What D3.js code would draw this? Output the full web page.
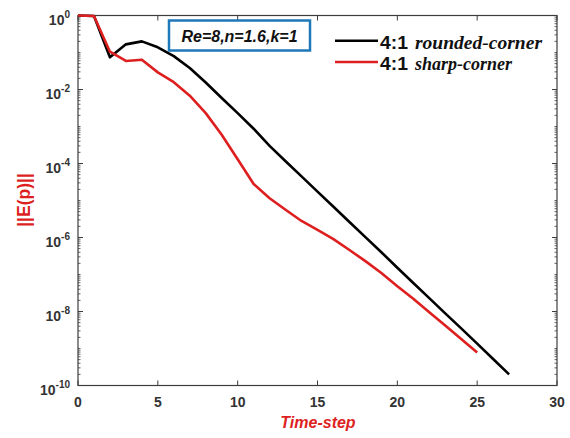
<!DOCTYPE html>
<html>
<head>
<meta charset="utf-8">
<script src="https://cdn.jsdelivr.net/npm/d3@7"></script>
<style>
  html, body { margin: 0; padding: 0; background: #fff; }
  svg { display: block; }
</style>
</head>
<body>
<svg id="chart" width="570" height="438"></svg>
<script>
// Residual norm per time step for two 4:1 contraction geometries
const roundedSteps = [0, 1, 2, 3, 4, 5, 6, 7, 8, 9, 10, 11, 12, 13, 14, 15, 16, 17, 18, 19, 20, 21, 22, 23, 24, 25, 26, 27];
const roundedCorner = [1.0, 0.97, 0.074, 0.166, 0.2, 0.138, 0.08, 0.038, 0.0155, 0.0059, 0.0023, 8.7e-4, 3.0e-4, 1.15e-4, 4.5e-5, 1.74e-5, 6.8e-6, 2.63e-6, 1.02e-6, 4.0e-7, 1.52e-7, 5.9e-8, 2.3e-8, 8.9e-9, 3.5e-9, 1.35e-9, 5.2e-10, 2.0e-10];
const sharpSteps = [0, 1, 2, 3, 4, 5, 6, 7, 8, 9, 10, 11, 12, 13, 14, 15, 16, 17, 18, 19, 20, 21, 22, 23, 24, 25];
const sharpCorner = [1.0, 0.97, 0.105, 0.059, 0.064, 0.029, 0.0158, 0.0068, 0.0023, 6.0e-4, 1.3e-4, 2.8e-5, 1.15e-5, 5.6e-6, 2.8e-6, 1.6e-6, 9.0e-7, 4.6e-7, 2.3e-7, 1.1e-7, 4.8e-8, 2.2e-8, 9.5e-9, 4.2e-9, 1.8e-9, 7.8e-10];
const xTicks = [0, 5, 10, 15, 20, 25, 30];
const yTickExponents = [0, -2, -4, -6, -8, -10];
const seriesNames = ["rounded-corner", "sharp-corner"];
const annotationText = "Re=8,n=1.6,k=1";

const svg = d3.select("#chart");
const plotLeft = 78, plotRight = 557, plotTop = 15.5, plotBottom = 385.5;
const axisColor = "#3c3c3c";
const red = "#de1f1f";

const x = d3.scaleLinear().domain([0, 30]).range([plotLeft, plotRight]);
const y = d3.scaleLog().domain([1e-10, 1]).range([plotBottom, plotTop]);

// minor ticks: odd decades plus 2..9 within each decade (left and right sides)
const minorVals = [];
for (let e = -10; e < 0; e++) {
  for (let m = 1; m < 10; m++) {
    if (m === 1 && e % 2 === 0) continue;
    minorVals.push(m * Math.pow(10, e));
  }
}
const g = svg.append("g");
[plotLeft, plotRight].forEach((xp, i) => {
  const dir = i === 0 ? 1 : -1;
  g.selectAll(null).data(minorVals).enter().append("line")
    .attr("x1", xp).attr("x2", xp + dir * 2.5)
    .attr("y1", d => y(d)).attr("y2", d => y(d))
    .attr("stroke", axisColor).attr("stroke-width", 0.8);
  g.selectAll(null).data(yTickExponents).enter().append("line")
    .attr("x1", xp).attr("x2", xp + dir * 5)
    .attr("y1", d => y(Math.pow(10, d))).attr("y2", d => y(Math.pow(10, d)))
    .attr("stroke", axisColor).attr("stroke-width", 1);
});
[plotBottom, plotTop].forEach((yp, i) => {
  const dir = i === 0 ? -1 : 1;
  g.selectAll(null).data(xTicks).enter().append("line")
    .attr("x1", d => x(d)).attr("x2", d => x(d))
    .attr("y1", yp).attr("y2", yp + dir * 5)
    .attr("stroke", axisColor).attr("stroke-width", 1);
});

// frame
g.append("rect").attr("x", plotLeft).attr("y", plotTop)
  .attr("width", plotRight - plotLeft).attr("height", plotBottom - plotTop)
  .attr("fill", "none").attr("stroke", axisColor).attr("stroke-width", 1.2);

// tick labels
const tickFont = "'Liberation Sans', Arial, sans-serif";
g.selectAll(null).data(xTicks).enter().append("text")
  .attr("x", d => x(d)).attr("y", 407)
  .attr("text-anchor", "middle")
  .attr("font-family", tickFont).attr("font-weight", "bold").attr("font-size", 14)
  .attr("fill", "#333").text(d => d);

const yl = g.selectAll(null).data(yTickExponents).enter().append("text")
  .attr("x", 70).attr("y", d => y(Math.pow(10, d)) + 9)
  .attr("text-anchor", "end")
  .attr("font-family", tickFont).attr("font-weight", "bold").attr("font-size", 14)
  .attr("fill", "#333");
yl.append("tspan").text("10");
yl.append("tspan").attr("font-size", 10).attr("dy", -7).text(d => d);

// data lines
const line = d3.line().x(d => x(d[0])).y(d => y(d[1]));
svg.append("path")
  .datum(roundedSteps.map((t, i) => [t, roundedCorner[i]]))
  .attr("d", line).attr("fill", "none").attr("stroke", "#000")
  .attr("stroke-width", 2.6).attr("stroke-linejoin", "round");
svg.append("path")
  .datum(sharpSteps.map((t, i) => [t, sharpCorner[i]]))
  .attr("d", line).attr("fill", "none").attr("stroke", red)
  .attr("stroke-width", 2.6).attr("stroke-linejoin", "round");

// annotation box
svg.append("rect").attr("x", 169).attr("y", 20.5).attr("width", 141).attr("height", 30)
  .attr("fill", "#fff").attr("stroke", "#1f78b8").attr("stroke-width", 2.5);
svg.append("text").attr("x", 239.5).attr("y", 42)
  .attr("text-anchor", "middle")
  .attr("font-family", tickFont).attr("font-weight", "bold").attr("font-style", "italic")
  .attr("font-size", 16).attr("fill", "#111").text(annotationText);

// legend
const legendColors = ["#000", red];
const legendY = [40.8, 62];
const nameWidths = [127, 97];
seriesNames.forEach((name, i) => {
  svg.append("line").attr("x1", 335).attr("x2", 378)
    .attr("y1", legendY[i]).attr("y2", legendY[i])
    .attr("stroke", legendColors[i]).attr("stroke-width", 2.6);
  svg.append("text").attr("x", 380).attr("y", legendY[i] + 8)
    .attr("font-family", tickFont)
    .attr("font-weight", "bold").attr("font-size", 18).attr("fill", "#111")
    .attr("textLength", 28).attr("lengthAdjust", "spacingAndGlyphs")
    .text("4:1");
  svg.append("text").attr("x", 415).attr("y", legendY[i] + 8)
    .attr("font-family", "'Liberation Serif', 'DejaVu Serif', serif")
    .attr("font-weight", "bold").attr("font-style", "italic")
    .attr("font-size", 18).attr("fill", "#111")
    .attr("textLength", nameWidths[i]).attr("lengthAdjust", "spacingAndGlyphs")
    .text(name);
});

// axis titles
svg.append("text").attr("x", 318).attr("y", 428)
  .attr("text-anchor", "middle")
  .attr("font-family", tickFont).attr("font-weight", "bold").attr("font-style", "italic")
  .attr("font-size", 16).attr("fill", red).text("Time-step");
svg.append("text")
  .attr("transform", "translate(29.5,200) rotate(-90)")
  .attr("text-anchor", "middle")
  .attr("font-family", tickFont).attr("font-weight", "bold")
  .attr("font-size", 17.5).attr("fill", red).text("||E(p)||");
</script>
</body>
</html>
